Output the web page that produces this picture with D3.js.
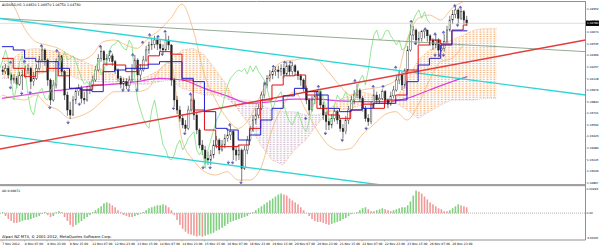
<!DOCTYPE html>
<html>
<head>
<meta charset="utf-8">
<script src="https://cdn.jsdelivr.net/npm/d3@7"></script>
<style>
  body { margin: 0; background: #fff; }
  svg { display: block; font-family: "DejaVu Sans", sans-serif; }
</style>
</head>
<body>
<svg id="chart" width="599" height="246"></svg>
<script>
var symbol = "AUDUSD,H1";
var copyright = "Alpari NZ MT4, \u00a9 2001-2012, MetaQuotes Software Corp.";

// candles, one every two hourly bars (bar index 2j)
var opens = [
  1.0422,1.0420,1.0424,1.0416,1.0410,1.0412,1.0405,1.0415,1.0416,1.0422,
  1.0424,1.0408,1.0412,1.0424,1.0434,1.0446,1.0434,1.0410,1.0386,1.0404,
  1.0432,1.0439,1.0420,1.0392,1.0374,1.0368,1.0386,1.0396,1.0400,1.0388,
  1.0386,1.0398,1.0403,1.0410,1.0422,1.0436,1.0444,1.0434,1.0436,1.0439,
  1.0432,1.0422,1.0412,1.0405,1.0408,1.0403,1.0410,1.0424,1.0434,1.0416,
  1.0422,1.0434,1.0446,1.0452,1.0453,1.0458,1.0453,1.0448,1.0446,1.0458,
  1.0452,1.0410,1.0386,1.0374,1.0364,1.0356,1.0352,1.0374,1.0386,1.0368,
  1.0350,1.0332,1.0326,1.0316,1.0314,1.0320,1.0332,1.0338,1.0326,1.0332,
  1.0340,1.0344,1.0348,1.0326,1.0320,1.0326,1.0304,1.0326,1.0338,1.0350,
  1.0362,1.0368,1.0376,1.0392,1.0404,1.0412,1.0416,1.0420,1.0422,1.0420,
  1.0424,1.0417,1.0427,1.0420,1.0427,1.0420,1.0415,1.0410,1.0400,1.0386,
  1.0374,1.0386,1.0391,1.0396,1.0380,1.0368,1.0360,1.0356,1.0364,1.0372,
  1.0362,1.0352,1.0348,1.0362,1.0374,1.0386,1.0392,1.0398,1.0388,1.0376,
  1.0364,1.0360,1.0380,1.0392,1.0386,1.0388,1.0396,1.0386,1.0381,1.0391,
  1.0398,1.0410,1.0416,1.0404,1.0422,1.0446,1.0464,1.0470,1.0458,1.0460,
  1.0468,1.0470,1.0463,1.0458,1.0452,1.0458,1.0446,1.0448,1.0456,1.0470,
  1.0482,1.0489,1.0494,1.0484,1.0492,1.0482
];
var highs = [
  1.0427,1.0429,1.0427,1.0418,1.0417,1.0415,1.0420,1.0422,1.0427,1.0429,
  1.0426,1.0420,1.0429,1.0439,1.0451,1.0448,1.0436,1.0412,1.0410,1.0436,
  1.0444,1.0440,1.0422,1.0396,1.0384,1.0391,1.0400,1.0405,1.0403,1.0396,
  1.0403,1.0408,1.0415,1.0427,1.0441,1.0450,1.0446,1.0441,1.0444,1.0442,
  1.0434,1.0424,1.0415,1.0412,1.0412,1.0415,1.0429,1.0440,1.0436,1.0429,
  1.0439,1.0451,1.0456,1.0460,1.0463,1.0462,1.0458,1.0453,1.0466,1.0463,
  1.0453,1.0412,1.0391,1.0379,1.0369,1.0362,1.0379,1.0393,1.0388,1.0372,
  1.0352,1.0338,1.0331,1.0324,1.0326,1.0338,1.0343,1.0340,1.0338,1.0345,
  1.0352,1.0355,1.0350,1.0331,1.0332,1.0328,1.0331,1.0343,1.0355,1.0368,
  1.0376,1.0381,1.0396,1.0408,1.0416,1.0422,1.0424,1.0426,1.0427,1.0429,
  1.0429,1.0432,1.0429,1.0432,1.0429,1.0422,1.0417,1.0412,1.0403,1.0388,
  1.0391,1.0396,1.0399,1.0398,1.0384,1.0372,1.0364,1.0369,1.0376,1.0374,
  1.0364,1.0357,1.0367,1.0379,1.0391,1.0398,1.0405,1.0400,1.0391,1.0379,
  1.0369,1.0384,1.0399,1.0396,1.0393,1.0399,1.0398,1.0388,1.0396,1.0403,
  1.0415,1.0422,1.0420,1.0424,1.0451,1.0477,1.0475,1.0472,1.0468,1.0470,
  1.0471,1.0470,1.0465,1.0460,1.0465,1.0460,1.0453,1.0465,1.0475,1.0487,
  1.0494,1.0499,1.0496,1.0496,1.0494,1.0487
];
var lows = [
  1.0416,1.0417,1.0412,1.0405,1.0406,1.0400,1.0403,1.0398,1.0412,1.0417,
  1.0399,1.0403,1.0410,1.0422,1.0432,1.0427,1.0403,1.0380,1.0384,1.0400,
  1.0427,1.0415,1.0386,1.0367,1.0363,1.0367,1.0381,1.0391,1.0382,1.0381,
  1.0384,1.0393,1.0398,1.0408,1.0420,1.0432,1.0429,1.0427,1.0432,1.0427,
  1.0417,1.0408,1.0400,1.0399,1.0399,1.0400,1.0408,1.0422,1.0399,1.0410,
  1.0420,1.0432,1.0441,1.0446,1.0448,1.0446,1.0444,1.0442,1.0444,1.0446,
  1.0403,1.0378,1.0369,1.0360,1.0352,1.0348,1.0350,1.0372,1.0362,1.0345,
  1.0328,1.0320,1.0309,1.0308,1.0308,1.0316,1.0328,1.0321,1.0324,1.0328,
  1.0336,1.0338,1.0314,1.0313,1.0314,1.0289,1.0302,1.0321,1.0336,1.0348,
  1.0357,1.0364,1.0374,1.0388,1.0400,1.0408,1.0411,1.0415,1.0412,1.0415,
  1.0412,1.0415,1.0415,1.0416,1.0415,1.0410,1.0403,1.0396,1.0381,1.0368,
  1.0372,1.0381,1.0386,1.0376,1.0362,1.0350,1.0350,1.0352,1.0360,1.0357,
  1.0348,1.0340,1.0345,1.0357,1.0372,1.0381,1.0388,1.0384,1.0372,1.0360,
  1.0355,1.0357,1.0376,1.0381,1.0381,1.0386,1.0381,1.0376,1.0379,1.0388,
  1.0396,1.0405,1.0398,1.0400,1.0420,1.0444,1.0458,1.0452,1.0453,1.0456,
  1.0460,1.0456,1.0451,1.0446,1.0448,1.0438,1.0444,1.0444,1.0453,1.0468,
  1.0477,1.0484,1.0478,1.0482,1.0477,1.0475
];
var closes = [
  1.0420,1.0424,1.0416,1.0410,1.0412,1.0405,1.0415,1.0416,1.0422,1.0424,
  1.0408,1.0412,1.0424,1.0434,1.0446,1.0434,1.0410,1.0386,1.0404,1.0432,
  1.0439,1.0420,1.0392,1.0374,1.0368,1.0386,1.0396,1.0400,1.0388,1.0386,
  1.0398,1.0403,1.0410,1.0422,1.0436,1.0444,1.0434,1.0436,1.0439,1.0432,
  1.0422,1.0412,1.0405,1.0408,1.0403,1.0410,1.0424,1.0434,1.0416,1.0422,
  1.0434,1.0446,1.0452,1.0453,1.0458,1.0453,1.0448,1.0446,1.0458,1.0452,
  1.0410,1.0386,1.0374,1.0364,1.0356,1.0352,1.0374,1.0386,1.0368,1.0350,
  1.0332,1.0326,1.0316,1.0314,1.0320,1.0332,1.0338,1.0326,1.0332,1.0340,
  1.0344,1.0348,1.0326,1.0320,1.0326,1.0304,1.0326,1.0338,1.0350,1.0362,
  1.0368,1.0376,1.0392,1.0404,1.0412,1.0416,1.0420,1.0422,1.0420,1.0424,
  1.0417,1.0427,1.0420,1.0427,1.0420,1.0415,1.0410,1.0400,1.0386,1.0374,
  1.0386,1.0391,1.0396,1.0380,1.0368,1.0360,1.0356,1.0364,1.0372,1.0362,
  1.0352,1.0348,1.0362,1.0374,1.0386,1.0392,1.0398,1.0388,1.0376,1.0364,
  1.0360,1.0380,1.0392,1.0386,1.0388,1.0396,1.0386,1.0381,1.0391,1.0398,
  1.0410,1.0416,1.0404,1.0422,1.0446,1.0464,1.0470,1.0458,1.0460,1.0468,
  1.0470,1.0463,1.0458,1.0452,1.0458,1.0446,1.0448,1.0456,1.0470,1.0482,
  1.0489,1.0494,1.0484,1.0492,1.0482,1.0478
];

// Awesome Oscillator, same two-bar steps
var aoValues = [
  0.00012,-0.00036,-0.00072,-0.00096,-0.0012,-0.0012,-0.00108,
  -0.00096,-0.00084,-0.00084,-0.00072,-0.0006,-0.00048,-0.00036,
  -0.00012,0.00012,-0.00024,-0.00048,-0.00036,0.00012,0.00024,0.00012,
  -0.00048,-0.00096,-0.00144,-0.00168,-0.00144,
  -0.0012,-0.00096,-0.00072,-0.00048,-0.00024,
  0.00012,0.00036,0.0006,0.00084,0.0012,0.00132,
  0.0012,0.00096,0.00072,0.00036,0.00012,
  -0.00024,-0.00036,-0.00048,-0.00048,-0.00036,-0.00024,-0.00012,
  0.00012,0.00036,0.0006,0.00072,0.00084,0.00096,
  0.00096,0.00108,0.00096,0.00072,0.00036,
  -0.00024,-0.00084,-0.00144,-0.00192,-0.00228,
  -0.00252,-0.00264,-0.00276,-0.00288,-0.00276,-0.00288,-0.00276,
  -0.00264,-0.00252,-0.0024,-0.00216,-0.00204,-0.0018,-0.00156,-0.00132,
  -0.00108,-0.00096,-0.00084,-0.00072,-0.0006,-0.00048,-0.00036,
  -0.00012,0.00012,
  0.00036,0.0006,0.00084,0.00108,0.00132,0.00156,0.0018,
  0.00204,0.00228,0.0024,0.00228,0.00216,
  0.0018,0.00156,0.00132,0.00108,0.00072,0.00036,0,
  -0.00036,-0.00072,-0.00096,-0.00108,-0.00108,
  -0.0012,-0.00132,-0.00144,-0.00132,-0.0012,
  -0.00108,-0.00096,-0.00072,-0.0006,-0.00036,-0.00012,
  0,0.00012,0.00036,0.0006,0.00072,0.00048,0.00024,0.00024,
  0.00036,0.00048,0.0006,0.00048,0.00036,0.00024,0.00036,
  0.00048,0.0006,0.00072,0.00072,0.00096,
  0.00144,0.00216,0.00276,
  0.00264,0.0024,0.00204,0.00168,0.00132,0.00108,0.00084,0.0006,0.00048,
  0.00024,0.00024,0.00036,0.0006,0.00084,0.00108,0.00096,0.00084,0.00072
];

// indicator lines, sampled every 8 hourly bars
var lineIdx = [0,8,16,24,32,40,48,56,64,72,80,88,96,104,112,120,128,136,144,152,160,
  168,176,184,192,200,208,216,224,232,240,248,256,264,272,280,288,296,304,312,320,328,331];
var tenkan = [1.0436,1.0424,1.0414,1.0420,1.0424,1.0415,1.0400,1.0398,1.0404,1.0429,1.0428,
  1.0420,1.0428,1.0439,1.0444,1.0441,1.0410,1.0374,1.0350,1.0330,1.0330,1.0332,1.0352,
  1.0386,1.0404,1.0415,1.0416,1.0392,1.0376,1.0368,1.0364,1.0374,1.0381,1.0376,1.0386,
  1.0392,1.0422,1.0452,1.0458,1.0453,1.0470,1.0476,1.0476];
var kijun = [1.0450,1.0446,1.0436,1.0432,1.0432,1.0424,1.0400,1.0398,1.0396,1.0420,1.0422,
  1.0424,1.0424,1.0429,1.0432,1.0432,1.0412,1.0408,1.0372,1.0352,1.0350,1.0338,1.0344,
  1.0362,1.0376,1.0391,1.0400,1.0396,1.0392,1.0376,1.0372,1.0374,1.0376,1.0382,1.0382,
  1.0386,1.0408,1.0428,1.0436,1.0452,1.0469,1.0469,1.0469];
var bbUpper = [1.0516,1.0500,1.0472,1.0456,1.0452,1.0448,1.0440,1.0434,1.0440,1.0456,1.0458,
  1.0452,1.0448,1.0460,1.0470,1.0484,1.0501,1.0470,1.0416,1.0386,1.0364,1.0352,1.0364,
  1.0392,1.0420,1.0432,1.0434,1.0436,1.0434,1.0420,1.0404,1.0392,1.0398,1.0400,1.0403,
  1.0410,1.0458,1.0484,1.0488,1.0482,1.0496,1.0504];
var bbLower = [1.0392,1.0388,1.0386,1.0392,1.0380,1.0374,1.0364,1.0367,1.0374,1.0386,1.0396,
  1.0396,1.0396,1.0400,1.0422,1.0432,1.0338,1.0314,1.0300,1.0296,1.0300,1.0290,1.0290,
  1.0304,1.0350,1.0380,1.0396,1.0374,1.0350,1.0332,1.0326,1.0328,1.0344,1.0356,1.0368,
  1.0372,1.0362,1.0380,1.0410,1.0432,1.0436,1.0452];

// Ichimoku cloud as displayed (already shifted forward)
var cloudIdx = [0,8,16,24,32,40,48,56,64,72,80,88,96,104,112,120,128,136,144,152,160,
  168,176,184,192,200,208,216,224,232,240,248,256,264,272,280,288,296,304,312,320,328,
  336,344,352];
var spanA = [1.0432,1.0436,1.0446,1.0448,1.0446,1.0444,1.0440,1.0434,1.0428,1.0422,1.0416,
  1.0412,1.0410,1.0415,1.0422,1.0434,1.0446,1.0448,1.0440,1.0422,1.0404,1.0374,1.0356,
  1.0332,1.0314,1.0308,1.0326,1.0338,1.0356,1.0374,1.0386,1.0392,1.0396,1.0392,1.0386,
  1.0386,1.0410,1.0434,1.0446,1.0452,1.0458,1.0464,1.0470,1.0472,1.0472];
var spanB = [1.0412,1.0412,1.0415,1.0416,1.0420,1.0420,1.0416,1.0410,1.0408,1.0408,1.0405,
  1.0405,1.0405,1.0405,1.0408,1.0410,1.0400,1.0396,1.0392,1.0392,1.0388,1.0386,1.0386,
  1.0380,1.0374,1.0372,1.0372,1.0368,1.0368,1.0372,1.0374,1.0376,1.0380,1.0382,1.0382,
  1.0382,1.0374,1.0364,1.0372,1.0380,1.0386,1.0386,1.0386,1.0388,1.0388];

// slow moving average, every 16 bars
var maIdx = [0,16,32,48,64,80,96,112,128,144,160,176,192,208,224,240,256,272,288,304,320,331];
var maSlow = [1.0388,1.0392,1.0396,1.0399,1.0403,1.0405,1.0408,1.0412,1.0410,1.0400,1.0391,
  1.0382,1.0384,1.0387,1.0387,1.0385,1.0384,1.0384,1.0388,1.0398,1.0408,1.0414];

// fractals
var fracUpIdx = [6,16,28,39,70,77,93,100,105,111,116,134,162,193,201,205,225,251,264,271,280,291,301,308,314,322,326];
var fracUpPrice = [1.0426,1.0427,1.0446,1.0440,1.0445,1.0439,1.0435,1.0450,1.0459,1.0457,1.0463,1.0388,1.0351,
  1.0421,1.0426,1.0426,1.0397,1.0404,1.0397,1.0397,1.0420,1.0475,1.0466,1.0460,1.0462,1.0494,1.0492];
var fracDnIdx = [6,14,20,34,47,55,86,90,96,114,122,130,143,148,161,164,170,187,216,230,242,259,294,308,311,314,324];
var fracDnPrice = [1.0406,1.0399,1.0400,1.0382,1.0364,1.0386,1.0403,1.0403,1.0403,1.0446,1.0381,1.0351,1.0310,
  1.0310,1.0316,1.0316,1.0292,1.0411,1.0369,1.0351,1.0343,1.0357,1.0459,1.0445,1.0445,1.0445,1.0481];

// trend lines: [bar index, price] end points
var trendGrey = [[-2, 1.0484], [415, 1.0444]];
var trendCyanTop = [[-2, 1.0484], [415, 1.0392]];
var trendCyanLow = [[-2, 1.0344], [415, 1.0252]];
var trendRed = [[-2, 1.0327], [415, 1.0458]];

var priceTicks = [1.04952,1.04813,1.04674,1.04535,1.04396,1.04257,1.04118,1.03979,
  1.03840,1.03701,1.03562,1.03423,1.03284,1.03145,1.03006,1.02867];
var aoTicks = [0.00296, 0, -0.00305];
var timeIdx = [0,16,32,48,64,80,96,112,128,144,160,176,192,208,224,240,256,272,288,304,320];
var timeLabels = ["7 Nov 2012","8 Nov 07:00","8 Nov 23:00","9 Nov 15:00","12 Nov 07:00",
  "12 Nov 23:00","13 Nov 15:00","14 Nov 07:00","14 Nov 23:00","15 Nov 15:00","16 Nov 07:00",
  "16 Nov 23:00","19 Nov 15:00","20 Nov 07:00","20 Nov 23:00","21 Nov 15:00","22 Nov 07:00",
  "22 Nov 23:00","23 Nov 15:00","26 Nov 07:00","26 Nov 23:00"];

var plotRight = 585.5, mainTop = 2, mainBottom = 184, aoBottom = 240;

var x = d3.scaleLinear().domain([0, 415]).range([2, 585.5]);
var y = d3.scaleLinear().domain([1.0290, 1.0500]).range([180, 5]);
var ya = d3.scaleLinear().domain([-0.00305, 0.00296]).range([238, 189]);

var svg = d3.select("#chart");
var defs = svg.append("defs");
defs.append("clipPath").attr("id", "clipMain").append("rect")
    .attr("x", 0).attr("y", mainTop).attr("width", plotRight).attr("height", mainBottom - mainTop);
defs.append("clipPath").attr("id", "clipAo").append("rect")
    .attr("x", 0).attr("y", 187).attr("width", plotRight).attr("height", aoBottom - 187);

function hatch(id, color)
{
    var p = defs.append("pattern").attr("id", id)
        .attr("patternUnits", "userSpaceOnUse").attr("width", 1.4).attr("height", 1.8);
    p.append("rect").attr("width", 0.7).attr("height", 0.8).attr("fill", color);
}
hatch("hatchA", "#f2a05a");
hatch("hatchB", "#c4a8c4");

function pairs(idx, vals)
{
    return vals.map(function(v, k) { return [idx[k], v]; });
}

var g = svg.append("g").attr("clip-path", "url(#clipMain)");

// cloud
var cloud = cloudIdx.map(function(i, k) { return {i: i, a: spanA[k], b: spanB[k]}; });
g.append("path").datum(cloud)
    .attr("fill", "url(#hatchA)")
    .attr("d", d3.area().x(function(d) { return x(d.i); })
        .y0(function(d) { return y(d.a); })
        .y1(function(d) { return y(Math.min(d.a, d.b)); }));
g.append("path").datum(cloud)
    .attr("fill", "url(#hatchB)")
    .attr("d", d3.area().x(function(d) { return x(d.i); })
        .y0(function(d) { return y(d.b); })
        .y1(function(d) { return y(Math.min(d.a, d.b)); }));
g.append("path").datum(pairs(cloudIdx, spanA))
    .attr("fill", "none").attr("stroke", "#f2a05a").attr("stroke-width", 0.6)
    .attr("stroke-dasharray", "1,1")
    .attr("d", d3.line().x(function(d) { return x(d[0]); }).y(function(d) { return y(d[1]); }));
g.append("path").datum(pairs(cloudIdx, spanB))
    .attr("fill", "none").attr("stroke", "#c4a8c4").attr("stroke-width", 0.6)
    .attr("stroke-dasharray", "1,1")
    .attr("d", d3.line().x(function(d) { return x(d[0]); }).y(function(d) { return y(d[1]); }));

// bollinger bands
var smooth = d3.line().curve(d3.curveMonotoneX)
    .x(function(d) { return x(d[0]); }).y(function(d) { return y(d[1]); });
[bbUpper, bbLower].forEach(function(band) {
    g.append("path").datum(pairs(lineIdx, band))
        .attr("fill", "none").attr("stroke", "#f5b677").attr("stroke-width", 0.8)
        .attr("d", smooth);
});

// slow average
g.append("path").datum(pairs(maIdx, maSlow))
    .attr("fill", "none").attr("stroke", "#e040e0").attr("stroke-width", 1.2)
    .attr("d", smooth);

// candles
var candles = closes.map(function(c, j) {
    return {i: 2 * j + 0.5, o: opens[j], h: highs[j], l: lows[j], c: c};
});
var cg = g.append("g");
cg.selectAll(".wick").data(candles).enter().append("line")
    .attr("class", "wick")
    .attr("x1", function(d) { return x(d.i); }).attr("x2", function(d) { return x(d.i); })
    .attr("y1", function(d) { return y(d.h); }).attr("y2", function(d) { return y(d.l); })
    .attr("stroke", "#222").attr("stroke-width", 0.6);
cg.selectAll(".body").data(candles).enter().append("rect")
    .attr("class", "body")
    .attr("x", function(d) { return x(d.i) - 0.8; })
    .attr("width", 1.6)
    .attr("y", function(d) { return y(Math.max(d.o, d.c)); })
    .attr("height", function(d) { return Math.max(0.6, Math.abs(y(d.o) - y(d.c))); })
    .attr("fill", function(d) { return d.c >= d.o ? "#fff" : "#222"; })
    .attr("stroke", "#222").attr("stroke-width", 0.4);

// chikou span: closes drawn 26 bars back
g.append("path").datum(candles)
    .attr("fill", "none").attr("stroke", "#7ee07e").attr("stroke-width", 0.8)
    .attr("d", d3.line().x(function(d) { return x(d.i - 26); }).y(function(d) { return y(d.c); }));

// trend lines
function trend(pts, color, w)
{
    g.append("line")
        .attr("x1", x(pts[0][0])).attr("y1", y(pts[0][1]))
        .attr("x2", x(pts[1][0])).attr("y2", y(pts[1][1]))
        .attr("stroke", color).attr("stroke-width", w);
}
trend(trendGrey, "#93ab93", 1);
trend(trendCyanTop, "#30d4d4", 1.4);
trend(trendCyanLow, "#30d4d4", 1.4);
trend(trendRed, "#e23c3c", 1.4);

// tenkan / kijun
var step = d3.line().curve(d3.curveStepAfter)
    .x(function(d) { return x(d[0]); }).y(function(d) { return y(d[1]); });
g.append("path").datum(pairs(lineIdx, tenkan))
    .attr("fill", "none").attr("stroke", "#e01010").attr("stroke-width", 1).attr("d", step);
g.append("path").datum(pairs(lineIdx, kijun))
    .attr("fill", "none").attr("stroke", "#2020cc").attr("stroke-width", 1).attr("d", step);

// bid line
var last = candles[candles.length - 1];
g.append("line").attr("x1", 0).attr("x2", plotRight)
    .attr("y1", y(last.c)).attr("y2", y(last.c))
    .attr("stroke", "#c8c8c8").attr("stroke-width", 0.6);

// fractal arrows
var fcol = "#5a5ab4";
g.selectAll(".fup").data(pairs(fracUpIdx, fracUpPrice)).enter().append("path")
    .attr("class", "fup")
    .attr("transform", function(d) { return "translate(" + x(d[0]) + "," + (y(d[1]) - 4) + ")"; })
    .attr("d", "M-1.4,0.2L0,-1.8L1.4,0.2ZM0,0V1.8")
    .attr("fill", fcol).attr("stroke", fcol).attr("stroke-width", 0.5);
g.selectAll(".fdn").data(pairs(fracDnIdx, fracDnPrice)).enter().append("path")
    .attr("class", "fdn")
    .attr("transform", function(d) { return "translate(" + x(d[0]) + "," + (y(d[1]) + 4) + ")"; })
    .attr("d", "M-1.4,-0.2L0,1.8L1.4,-0.2ZM0,0V-1.8")
    .attr("fill", fcol).attr("stroke", fcol).attr("stroke-width", 0.5);

// oscillator
var ga = svg.append("g").attr("clip-path", "url(#clipAo)");
ga.append("line").attr("x1", 0).attr("x2", plotRight)
    .attr("y1", ya(0)).attr("y2", ya(0))
    .attr("stroke", "#808080").attr("stroke-width", 0.6).attr("stroke-dasharray", "1,1");
var prevCol = "#7fd07f";
var aoCols = aoValues.map(function(v, j) {
    if (j > 0 && v > aoValues[j - 1]) prevCol = "#7fd07f";
    else if (j > 0 && v < aoValues[j - 1]) prevCol = "#f29a9a";
    return prevCol;
});
ga.selectAll(".ao").data(aoValues).enter().append("rect")
    .attr("class", "ao")
    .attr("x", function(v, j) { return x(2 * j + 0.5) - 0.8; })
    .attr("width", 1.6)
    .attr("y", function(v) { return Math.min(ya(0), ya(v)); })
    .attr("height", function(v) { return Math.max(0.4, Math.abs(ya(v) - ya(0))); })
    .attr("fill", function(v, j) { return aoCols[j]; });

// frames
svg.append("line").attr("x1", 0).attr("x2", plotRight).attr("y1", 1.5).attr("y2", 1.5)
    .attr("stroke", "#909090").attr("stroke-width", 1);
svg.append("rect").attr("x", 0).attr("y", 184).attr("width", plotRight).attr("height", 2.2)
    .attr("fill", "#a0a0a0");
svg.append("line").attr("x1", 0).attr("x2", plotRight).attr("y1", aoBottom).attr("y2", aoBottom)
    .attr("stroke", "#909090").attr("stroke-width", 1);
svg.append("line").attr("x1", plotRight).attr("x2", plotRight).attr("y1", 1).attr("y2", aoBottom)
    .attr("stroke", "#909090").attr("stroke-width", 1);

// price axis
var tg = svg.append("g").style("font-size", "2.8px").attr("fill", "#000");
priceTicks.forEach(function(p) {
    svg.append("line").attr("x1", plotRight).attr("x2", plotRight + 1.2)
        .attr("y1", y(p)).attr("y2", y(p)).attr("stroke", "#909090").attr("stroke-width", 0.5);
    tg.append("text").attr("x", 587).attr("y", y(p) + 1).text(p.toFixed(5));
});
svg.append("rect").attr("x", plotRight + 0.5).attr("y", y(last.c) - 2.6)
    .attr("width", 13).attr("height", 5.2).attr("fill", "#000");
svg.append("text").attr("x", 587).attr("y", y(last.c) + 1)
    .style("font-size", "2.8px").attr("fill", "#fff").text(last.c.toFixed(5));

aoTicks.forEach(function(v) {
    tg.append("text").attr("x", 586.6).attr("y", ya(v) + 1)
        .style("font-size", v < 0 ? "2.6px" : null)
        .text(v === 0 ? "0.00" : v.toFixed(5));
});

// time axis
timeIdx.forEach(function(i, k) {
    svg.append("line").attr("x1", x(i)).attr("x2", x(i)).attr("y1", aoBottom).attr("y2", aoBottom + 1.5)
        .attr("stroke", "#909090").attr("stroke-width", 0.5);
    svg.append("text").attr("x", x(i) + 0.3).attr("y", 244.6)
        .style("font-size", "3px").attr("fill", "#000").text(timeLabels[k]);
});

// captions
svg.append("text").attr("x", 2).attr("y", 5.6).style("font-size", "3.3px").attr("fill", "#000")
    .text(symbol + "  " + [last.o, last.h, last.l, last.c].map(function(v) { return v.toFixed(5); }).join(" "));
svg.append("text").attr("x", 2).attr("y", 191.5).style("font-size", "3.1px").attr("fill", "#000")
    .text("AO " + aoValues[aoValues.length - 1].toFixed(5));
svg.append("text").attr("x", 2).attr("y", 238.2).style("font-size", "3.8px").attr("fill", "#000")
    .text(copyright);
</script>
</body>
</html>
